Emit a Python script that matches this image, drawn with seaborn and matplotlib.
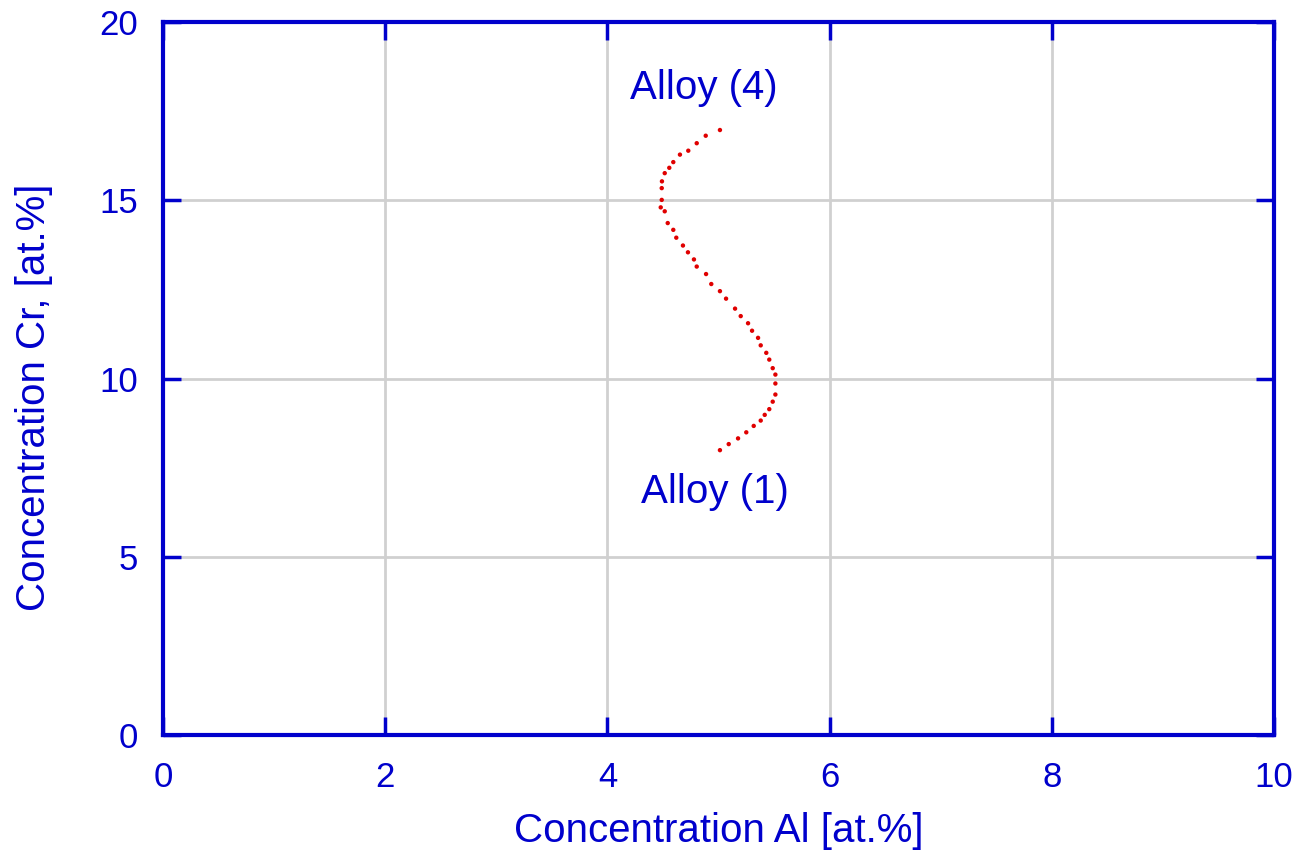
import matplotlib
matplotlib.use("Agg")
import matplotlib.pyplot as plt
import seaborn as sns
import pandas as pd

al = [5.013, 4.885, 4.804, 4.728, 4.653, 4.593, 4.557, 4.516, 4.491, 4.489,
      4.489, 4.480, 4.516, 4.543, 4.593, 4.620, 4.680, 4.725, 4.779, 4.804,
      4.888, 4.935, 5.013, 5.068, 5.149, 5.200, 5.266, 5.302, 5.356, 5.380,
      5.430, 5.457, 5.488, 5.512, 5.512, 5.512, 5.488, 5.457, 5.416, 5.380,
      5.317, 5.250, 5.176, 5.092, 5.013]
cr = [16.97, 16.81, 16.60, 16.39, 16.28, 16.07, 15.91, 15.76, 15.53, 15.34,
      15.01, 14.80, 14.69, 14.36, 14.17, 13.95, 13.73, 13.54, 13.34, 13.14,
      12.93, 12.65, 12.45, 12.24, 11.96, 11.75, 11.55, 11.34, 11.14, 10.93,
      10.72, 10.53, 10.29, 10.11, 9.86, 9.55, 9.35, 9.14, 8.98, 8.82,
      8.67, 8.49, 8.32, 8.16, 7.99]
x_ticks = [0, 2, 4, 6, 8, 10]
y_ticks = [0, 5, 10, 15, 20]
labels = ["Alloy (4)", "Alloy (1)"]

sns.set_theme(style="white")
plt.rcParams['font.family'] = ['Liberation Sans', 'DejaVu Sans']
blue = "#0000cc"

fig = plt.figure(figsize=(13, 8.61), dpi=100)
ax = fig.add_axes([163/1300, 1-735/861, (1274-163)/1300, (735-22)/861])

df = pd.DataFrame({"al": al, "cr": cr})
sns.scatterplot(data=df, x="al", y="cr", ax=ax, color="#e00000", s=10,
                edgecolor="none", zorder=3)

ax.set_xlim(0, 10)
ax.set_ylim(0, 20)
ax.set_xticks(x_ticks)
ax.set_yticks(y_ticks)
ax.grid(True, color="#d0d0d0", linewidth=2.0, linestyle="-")
ax.set_axisbelow(True)
for s in ax.spines.values():
    s.set_color(blue)
    s.set_linewidth(3)
    s.set_visible(True)
ax.tick_params(axis="both", direction="in", length=13, width=2.5, color=blue,
               labelcolor=blue, labelsize=25, top=True, right=True,
               bottom=True, left=True)
ax.tick_params(axis="x", pad=19)
ax.tick_params(axis="y", pad=18)
ax.set_xlabel("Concentration Al [at.%]", color=blue, fontsize=29, labelpad=13)
ax.set_ylabel("Concentration Cr, [at.%]", color=blue, fontsize=29)
ax.yaxis.set_label_coords(-0.099, 0.473)

ax.text(4.87, 18.15, labels[0], color=blue, fontsize=29, ha="center", va="center")
ax.text(4.97, 6.82, labels[1], color=blue, fontsize=29, ha="center", va="center")

fig.savefig("out.png", dpi=100)
